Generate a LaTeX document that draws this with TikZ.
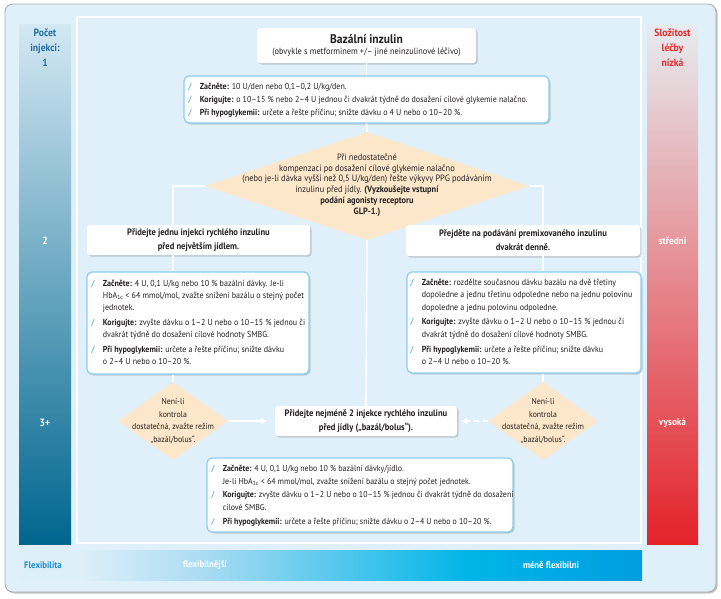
\documentclass[tikz,border=0pt]{standalone}
\usepackage{fontspec}
\setmainfont{PT Sans}[FakeStretch=0.92]
\usetikzlibrary{shapes.geometric,shadows,arrows.meta}
\definecolor{bgblue}{HTML}{DFF0FA}
\definecolor{outerline}{HTML}{A7A9AC}
\definecolor{boxline}{HTML}{8DCDEE}
\definecolor{peach}{HTML}{FCE7CB}
\definecolor{bulc}{HTML}{1B8ED0}
\definecolor{txt}{HTML}{231F20}
\definecolor{injc}{HTML}{1E6FA6}
\definecolor{redc}{HTML}{E32B2D}
\definecolor{lctop}{HTML}{D3E8F3}
\definecolor{lcbot}{HTML}{00668E}
\definecolor{rctop}{HTML}{E6ECF0}
\definecolor{rcmid}{HTML}{EAA58F}
\definecolor{rcbot}{HTML}{E4222A}
\definecolor{flA}{HTML}{DDEFF9}
\definecolor{flB}{HTML}{A9DBF2}
\definecolor{flC}{HTML}{00B5E8}
\definecolor{flD}{HTML}{009EDF}
\pgfdeclarehorizontalshading{flexsh}{100bp}{color(0bp)=(flA); color(25bp)=(flA); color(30bp)=(flA); color(40bp)=(flB); color(61bp)=(flC); color(75bp)=(flD); color(100bp)=(flD)}
\newcommand\bu{\textcolor{bulc}{/}}
\begin{document}
\begin{tikzpicture}[x=1pt,y=-1pt,
  conn/.style={white, line width=1.6pt},
  shad/.style={drop shadow={shadow xshift=1.5pt,shadow yshift=-1.5pt,opacity=0.35}},
  hdr/.style={rectangle, rounded corners=3pt, fill=white, shad, inner sep=0pt},
  det/.style={rectangle, rounded corners=5pt, fill=white, draw=boxline, line width=1.3pt, shad, inner sep=0pt},
  dia/.style={diamond, fill=peach, inner sep=0pt},
  hdrtxt/.style={font=\bfseries\fontsize{9.3}{14}\selectfont, align=center, text=txt},
  dtxt/.style={anchor=west, inner sep=0pt, font=\fontsize{8.7}{12.3}\selectfont, text=txt},
  diatxt/.style={font=\fontsize{9.1}{10.8}\selectfont, align=center, text=txt, inner sep=0pt},
  coltxt/.style={font=\bfseries\fontsize{10.5}{15}\selectfont, align=center, inner sep=0pt},
  bartxt/.style={font=\bfseries\fontsize{9.5}{12}\selectfont, inner sep=0pt},
]
\useasboundingbox (0,0) rectangle (721,598);
% frame
\fill[outerline!70, rounded corners=8pt] (6.5,5.5) rectangle (717.5,593.5);
\draw[outerline, fill=bgblue, rounded corners=8pt, line width=0.8pt] (5,4) rectangle (716,592);
\draw[white, line width=1.5pt] (77,17) rectangle (641,543);
% columns
\shade[top color=lctop, bottom color=lcbot] (19,24) rectangle (71,544);
\shade[top color=rctop, middle color=rcmid, bottom color=rcbot] (647,24) rectangle (698,544);
\shade[shading=flexsh] (19,550) rectangle (642,580);
\node[coltxt, text=injc] (inj1) at (45,48) {Počet\\injekcí:\\1};
\node[coltxt, text=white] (inj2) at (45,241) {2};
\node[coltxt, text=white] (inj3) at (45,423) {3+};
\node[coltxt, text=redc] (cx1) at (672.5,48) {Složitost\\léčby\\nízká};
\node[coltxt, text=white, font=\bfseries\fontsize{10}{15}\selectfont] (cx2) at (672.5,241) {střední};
\node[coltxt, text=white, font=\bfseries\fontsize{10}{15}\selectfont] (cx3) at (672.5,423) {vysoká};
\node[bartxt, text=bulc] (fl1) at (43,565) {Flexibilita};
\node[bartxt, text=white] (fl2) at (205,565) {flexibilnější};
\node[bartxt, text=white] (fl3) at (551,565) {méně flexibilní};
% title
\node[hdr, minimum width=219, minimum height=35, align=center, text=txt] (title) at (366.5,45.5)
  {{\bfseries\fontsize{12.5}{15}\selectfont Bazální inzulin}\\[-1pt]{\fontsize{9}{10}\selectfont (obvykle s metforminem +/– jiné neinzulinové léčivo)}};
% box1
\node[det, minimum width=365, minimum height=47] (b1) at (366.5,99.5) {};
\node[dtxt, font=\fontsize{8.7}{13}\selectfont] (b1t) at ([xshift=5pt]b1.west) {\begin{tabular}{@{}l@{\hspace{8.5pt}}l@{}}
\bu & \textbf{Začněte:} 10 U/den nebo 0,1–0,2 U/kg/den.\\
\bu & \textbf{Korigujte:} o 10–15 \% nebo 2–4 U jednou či dvakrát týdně do dosažení cílové glykemie nalačno.\\
\bu & \textbf{Při hypoglykemii:} určete a řešte příčinu; snižte dávku o 4 U nebo o 10–20 \%.
\end{tabular}};
% main diamond
\node[dia, minimum width=324, minimum height=108] (d1) at (367,186) {};
\node[diatxt] (d1t) at (367,185) {Při nedostatečné\\kompenzaci po dosažení cílové glykemie nalačno\\(nebo je-li dávka vyšší než 0,5 U/kg/den) řešte výkyvy PPG podáváním\\inzulinu před jídly. \textbf{(Vyzkoušejte vstupní}\\\textbf{podání agonisty receptoru}\\\textbf{GLP-1.)}};
% left branch
\node[hdr, hdrtxt, minimum width=223, minimum height=30] (lh) at (198.5,240) {Přidejte jednu injekci rychlého inzulinu\\před největším jídlem.};
\node[det, minimum width=222, minimum height=102] (ld) at (198,323) {};
\node[dtxt] (ldt) at ([xshift=5pt]ld.west) {\begin{tabular}{@{}l@{\hspace{8.5pt}}l@{}}
\bu & \textbf{Začněte:} 4 U, 0,1 U/kg nebo 10 \% bazální dávky. Je-li\\
 & HbA\textsubscript{1c} < 64 mmol/mol, zvažte snížení bazálu o stejný počet\\
 & jednotek.\\[2.5pt]
\bu & \textbf{Korigujte:} zvyšte dávku o 1–2 U nebo o 10–15 \% jednou či\\
 & dvakrát týdně do dosažení cílové hodnoty SMBG.\\[2.5pt]
\bu & \textbf{Při hypoglykemii:} určete a řešte příčinu; snižte dávku\\
 & o 2–4 U nebo o 10–20 \%.
\end{tabular}};
% right branch
\node[hdr, hdrtxt, minimum width=234, minimum height=31] (rh) at (523,240.5) {Přejděte na podávání premixovaného inzulinu\\dvakrát denně.};
\node[det, minimum width=234, minimum height=101] (rd) at (524,322.5) {};
\node[dtxt] (rdt) at ([xshift=4pt]rd.west) {\begin{tabular}{@{}l@{\hspace{8.5pt}}l@{}}
\bu & \textbf{Začněte:} rozdělte současnou dávku bazálu na dvě třetiny\\
 & dopoledne a jednu třetinu odpoledne nebo na jednu polovinu\\
 & dopoledne a jednu polovinu odpoledne.\\[2.5pt]
\bu & \textbf{Korigujte:} zvyšte dávku o 1–2 U nebo o 10–15 \% jednou či\\
 & dvakrát týdně do dosažení cílové hodnoty SMBG.\\[2.5pt]
\bu & \textbf{Při hypoglykemii:} určete a řešte příčinu; snižte dávku\\
 & o 2–4 U nebo o 10–20 \%.
\end{tabular}};
% small diamonds
\node[dia, minimum width=110, minimum height=78] (sl) at (173,421) {};
\node[diatxt, font=\fontsize{8.5}{12.5}\selectfont] (slt) at (173,421) {Není-li\\kontrola\\dostatečná, zvažte režim\\„bazál/bolus“.};
\node[dia, minimum width=110, minimum height=78] (sr) at (543,421) {};
\node[diatxt, font=\fontsize{8.5}{12.5}\selectfont] (srt) at (543,421) {Není-li\\kontrola\\dostatečná, zvažte režim\\„bazál/bolus“.};
% bottom
\node[hdr, hdrtxt, minimum width=182, minimum height=30] (bh) at (366,421) {Přidejte nejméně 2 injekce rychlého inzulinu\\před jídly („bazál/bolus“).};
\node[det, minimum width=306, minimum height=74] (bd) at (360,495) {};
\node[dtxt, font=\fontsize{8.6}{13.3}\selectfont] (bdt) at ([xshift=5pt]bd.west) {\begin{tabular}{@{}l@{\hspace{8.5pt}}l@{}}
\bu & \textbf{Začněte:} 4 U, 0,1 U/kg nebo 10 \% bazální dávky/jídlo.\\
 & Je-li HbA\textsubscript{1c} < 64 mmol/mol, zvažte snížení bazálu o stejný počet jednotek.\\
\bu & \textbf{Korigujte:} zvyšte dávku o 1–2 U nebo o 10–15 \% jednou či dvakrát týdně do dosažení\\
 & cílové SMBG.\\
\bu & \textbf{Při hypoglykemii:} určete a řešte příčinu; snižte dávku o 2–4 U nebo o 10–20 \%.
\end{tabular}};
% connectors
\coordinate (lx) at (173,0);
\coordinate (rx) at (543,0);
\draw[conn] (title.south) -- (b1.north);
\draw[conn] (b1.south) -- (d1.north);
\draw[conn] (d1.west) -| (lx |- lh.north);
\draw[conn] (d1.east) -| (rx |- rh.north);
\draw[conn] (lx |- lh.south) -- (lx |- ld.north);
\draw[conn] (rx |- rh.south) -- (rx |- rd.north);
\draw[conn] (lx |- ld.south) -- (sl.north);
\draw[conn] (rx |- rd.south) -- (sr.north);
\draw[conn] (d1.south) -- (bh.north);
\draw[conn, -{Triangle[length=6pt,width=6pt]}, shorten >=8pt] (sl.east) -- (bh.west);
\draw[conn, dash pattern=on 5pt off 4pt, -{Triangle[length=6pt,width=6pt]}, shorten >=4pt] (sr.west) -- (bh.east);
\end{tikzpicture}
\end{document}
